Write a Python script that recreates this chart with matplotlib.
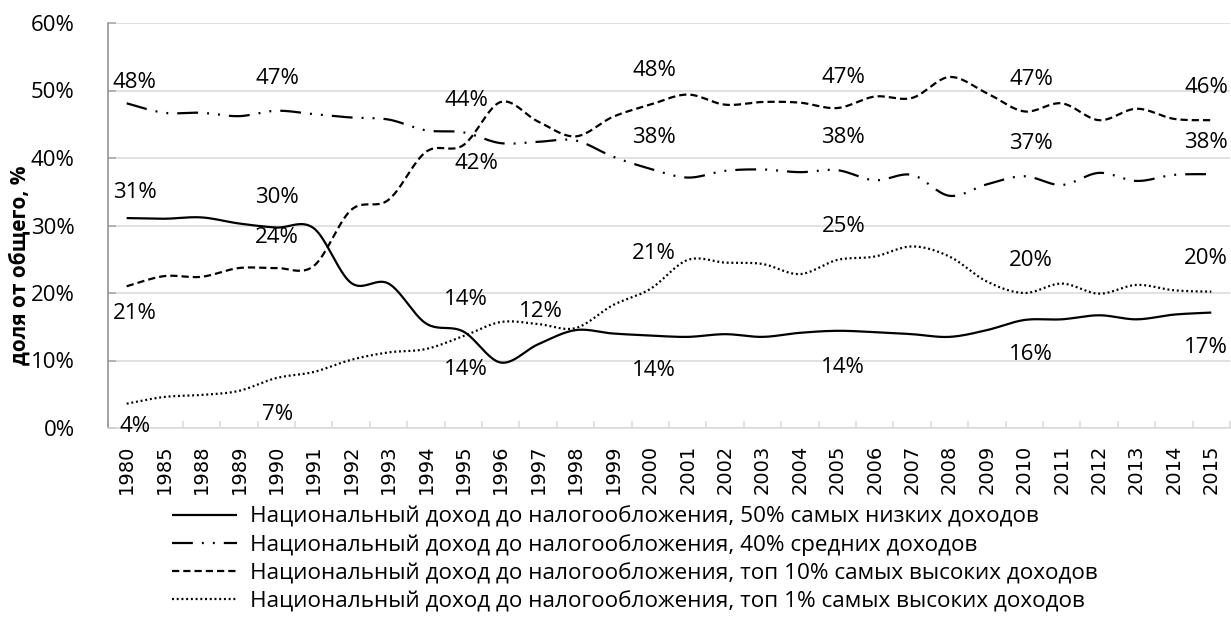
import numpy as np
import matplotlib.pyplot as plt

plt.rcParams['font.family'] = ['Open Sans', 'DejaVu Sans']
plt.rcParams['lines.scale_dashes'] = False

years = ["1980", "1985", "1988", "1989", "1990", "1991", "1992", "1993", "1994", "1995",
         "1996", "1997", "1998", "1999", "2000", "2001", "2002", "2003", "2004", "2005",
         "2006", "2007", "2008", "2009", "2010", "2011", "2012", "2013", "2014", "2015"]

# доли, %
bottom50 = [31.1, 31.0, 31.2, 30.3, 29.7, 29.6, 21.5, 21.4, 15.5, 14.3,
            9.7, 12.4, 14.5, 14.0, 13.7, 13.5, 13.9, 13.5, 14.1, 14.4,
            14.2, 13.9, 13.5, 14.5, 16.0, 16.1, 16.7, 16.1, 16.8, 17.1]
middle40 = [48.1, 46.7, 46.7, 46.2, 47.0, 46.5, 46.0, 45.7, 44.1, 43.8,
            42.2, 42.4, 42.6, 40.2, 38.4, 37.1, 38.1, 38.3, 37.9, 38.2,
            36.7, 37.5, 34.4, 36.1, 37.3, 36.0, 37.8, 36.6, 37.5, 37.6]
top10 = [21.0, 22.5, 22.4, 23.7, 23.7, 24.0, 32.3, 33.8, 40.9, 41.9,
         48.3, 45.4, 43.2, 46.1, 47.9, 49.4, 47.9, 48.3, 48.2, 47.4,
         49.1, 48.9, 52.0, 49.6, 46.9, 48.1, 45.6, 47.3, 45.8, 45.6]
top1 = [3.6, 4.6, 4.9, 5.5, 7.4, 8.3, 10.1, 11.2, 11.7, 13.6,
        15.7, 15.4, 14.8, 18.2, 20.6, 24.9, 24.5, 24.3, 22.8, 24.9,
        25.4, 26.9, 25.4, 21.7, 20.0, 21.4, 19.9, 21.2, 20.4, 20.2]

names = ["Национальный доход до налогообложения, 50% самых низких доходов",
         "Национальный доход до налогообложения, 40% средних доходов",
         "Национальный доход до налогообложения, топ 10% самых высоких доходов",
         "Национальный доход до налогообложения, топ 1% самых высоких доходов"]

series = {"b50": bottom50, "m40": middle40, "t10": top10, "t1": top1}
# (серия, год, сдвиг подписи в пикселях)
point_labels = [
    ("m40", "1980", 8, 21), ("b50", "1980", 8, 26), ("t10", "1980", 8, -27), ("t1", "1980", 8, -23),
    ("m40", "1990", 1, 32), ("b50", "1990", 1, 30), ("t10", "1990", 1, 31), ("t1", "1990", 1, -36),
    ("m40", "1995", 3, 32), ("t10", "1995", 13, -18), ("t1", "1995", 3, 37), ("b50", "1995", 3, -38),
    ("b50", "1997", 3, 33),
    ("t10", "2000", 4, 34), ("m40", "2000", 4, 31), ("t1", "2000", 4, 35), ("b50", "2000", 4, -35),
    ("t10", "2005", 6, 31), ("m40", "2005", 6, 33), ("t1", "2005", 6, 33), ("b50", "2005", 6, -37),
    ("t10", "2010", 7, 32), ("m40", "2010", 7, 33), ("t1", "2010", 7, 33), ("b50", "2010", 7, -35),
    ("t10", "2015", -5, 33), ("m40", "2015", -5, 32), ("t1", "2015", -5, 33), ("b50", "2015", -5, -35),
]


def smooth(y, n=24):
	# сглаживание как в Excel (Catmull-Rom через кривые Безье)
	pts = np.column_stack([np.arange(len(y)), np.asarray(y, float)])
	out = []
	t = np.linspace(0, 1, n)[:, None]
	for i in range(len(pts) - 1):
		p0 = pts[max(i - 1, 0)]
		p1 = pts[i]
		p2 = pts[i + 1]
		p3 = pts[min(i + 2, len(pts) - 1)]
		c1 = p1 + (p2 - p0) / 6
		c2 = p2 - (p3 - p1) / 6
		seg = (1 - t) ** 3 * p1 + 3 * (1 - t) ** 2 * t * c1 + 3 * (1 - t) * t ** 2 * c2 + t ** 3 * p2
		out.append(seg if i == 0 else seg[1:])
	out = np.vstack(out)
	return out[:, 0], out[:, 1]


fig = plt.figure(figsize=(12.31, 6.17), dpi=100)
ax = fig.add_axes([108 / 1231, 1 - 428 / 617, 1122 / 1231, 405 / 617])

styles = {
	"b50": dict(linestyle="-"),
	"m40": dict(dashes=(15, 6.5, 1.4, 6.5, 1.4, 6.5)),
	"t10": dict(dashes=(5.2, 2.9)),
	"t1": dict(dashes=(1.4, 2.0)),
}
handles = []
for key, name in zip(["b50", "m40", "t10", "t1"], names):
	sx, sy = smooth(series[key])
	line, = ax.plot(sx, sy, color="black", linewidth=1.6, solid_capstyle="butt",
	                dash_capstyle="butt", label=name, **styles[key])
	handles.append(line)

for key, year, dx, dy in point_labels:
	i = years.index(year)
	v = series[key][i]
	ax.annotate(f"{int(v + 0.5)}%", (i, v), xytext=(dx, dy), textcoords="offset pixels",
	            ha="center", va="center", fontsize=16)

ax.set_xlim(-0.5, len(years) - 0.5)
ax.set_ylim(0, 60)
ax.set_yticks(np.arange(0, 61, 10))
ax.set_yticklabels([f"{v}%" for v in range(0, 61, 10)], fontsize=16)
ax.set_xticks(np.arange(len(years)))
ax.set_xticklabels(years, rotation=90, fontsize=14, family="DejaVu Sans")
ax.set_xticks(np.arange(len(years) + 1) - 0.5, minor=True)
ax.tick_params(axis="x", which="major", length=0, pad=12)
ax.tick_params(axis="x", which="minor", direction="in", length=5, color="#d9d9d9", width=1.1)
ax.tick_params(axis="y", direction="in", length=6, color="#a6a6a6", width=1.1, pad=24)
ax.grid(axis="y", color="#d9d9d9", linewidth=1.1)
ax.set_axisbelow(True)
for s in ["top", "right"]:
	ax.spines[s].set_visible(False)
ax.spines["bottom"].set_color("#d9d9d9")
ax.spines["bottom"].set_linewidth(1.1)
ax.spines["left"].set_color("#8c8c8c")
ax.spines["left"].set_linewidth(1.1)

fig.text(19 / 1231, 1 - 265 / 617, "доля от общего, %", rotation=90, ha="center", va="center",
         fontsize=15, fontweight="bold")

fig.legend(handles=handles, loc="upper left", bbox_to_anchor=(172 / 1231, 1 - 506 / 617),
           frameon=False, fontsize=16.2, borderpad=0, borderaxespad=0, handlelength=2.9,
           handletextpad=0.58, labelspacing=0.3)

fig.savefig("out.png", dpi=100)
